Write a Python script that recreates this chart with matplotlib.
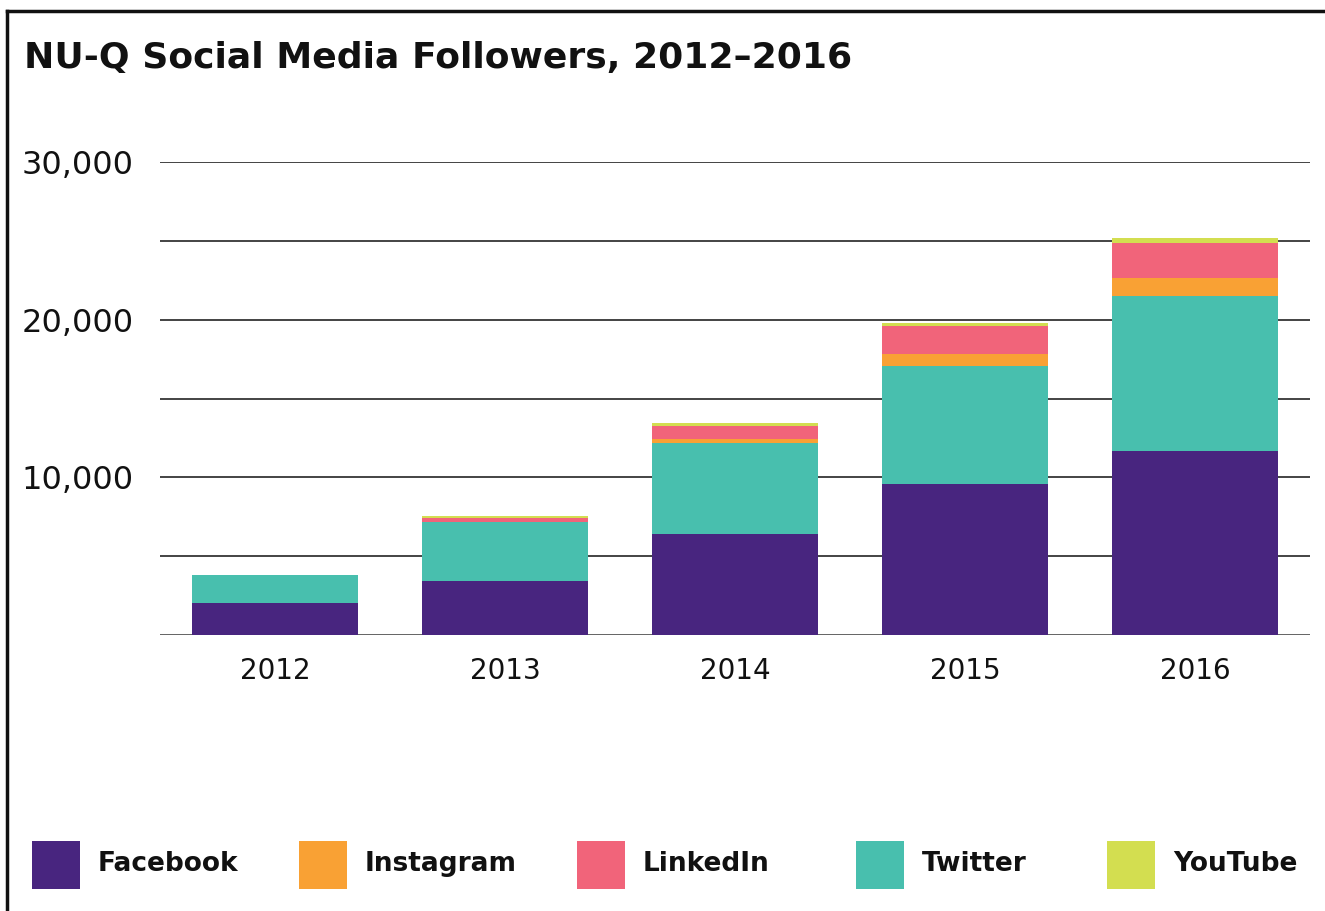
import matplotlib
matplotlib.use("Agg")
from matplotlib import pyplot as plt
from matplotlib.patches import Rectangle
from matplotlib.lines import Line2D
import numpy as np

plt.rcParams['font.family'] = ['DejaVu Sans']

years = ['2012', '2013', '2014', '2015', '2016']
facebook = [2050, 3430, 6400, 9580, 11670]
twitter = [1750, 3740, 5780, 7480, 9830]
instagram = [0, 0, 250, 760, 1140]
linkedin = [0, 250, 830, 1780, 2220]
youtube = [20, 130, 190, 190, 320]

series = [('Facebook', facebook, '#48257f'),
          ('Twitter', twitter, '#48bfae'),
          ('Instagram', instagram, '#f9a134'),
          ('LinkedIn', linkedin, '#f1647a'),
          ('YouTube', youtube, '#d3de50')]
legend_order = ['Facebook', 'Instagram', 'LinkedIn', 'Twitter', 'YouTube']

W, H = 1325, 911
fig = plt.figure(figsize=(W / 100, H / 100), dpi=100)
ax = fig.add_axes([160 / W, 1 - 635 / H, 1150 / W, 473 / H])

x = np.arange(len(years))
bottom = np.zeros(len(years))
colors = {}
for name, vals, col in series:
    ax.bar(x, vals, width=0.72, bottom=bottom, color=col, zorder=3, linewidth=0)
    bottom += np.array(vals)
    colors[name] = col

ax.set_xlim(-0.5, 4.5)
ax.set_ylim(0, 30000)
ax.set_yticks(np.arange(0, 30001, 5000))
ax.set_yticklabels(['' if v % 10000 or v == 0 else f'{v:,}' for v in range(0, 30001, 5000)])
ax.set_xticks(x)
ax.set_xticklabels(years)
ax.grid(axis='y', color='#111111', linewidth=1.1, zorder=0)
ax.get_ygridlines()[0].set_color('#555555')
ax.get_ygridlines()[0].set_linewidth(2)
for s in ax.spines.values():
    s.set_visible(False)
ax.tick_params(axis='y', length=0, pad=19, labelsize=23, labelcolor='#111111')
ax.tick_params(axis='x', length=0, pad=16, labelsize=20, labelcolor='#111111')

fig.text(24 / W, 1 - 58 / H, 'NU-Q Social Media Followers, 2012\u20132016',
         fontsize=26, fontweight='bold', va='center', ha='left', color='#111111')

# frame (clipped on right and bottom)
fig.add_artist(Line2D([7 / W, 7 / W], [0, 1 - 11 / H], color='#111111', linewidth=2.5))
fig.add_artist(Line2D([7 / W, 1], [1 - 11 / H, 1 - 11 / H], color='#111111', linewidth=2.5))

# legend
leg_x = [32, 299, 577, 856, 1107]
for lx, name in zip(leg_x, legend_order):
    fig.add_artist(Rectangle((lx / W, 1 - 889 / H), 48 / W, 48 / H, color=colors[name],
                             transform=fig.transFigure, linewidth=0))
    fig.text((lx + 66) / W, 1 - 864 / H, name, fontsize=19, fontweight='bold',
             va='center', ha='left', color='#111111')

fig.savefig('out.png', dpi=100)
